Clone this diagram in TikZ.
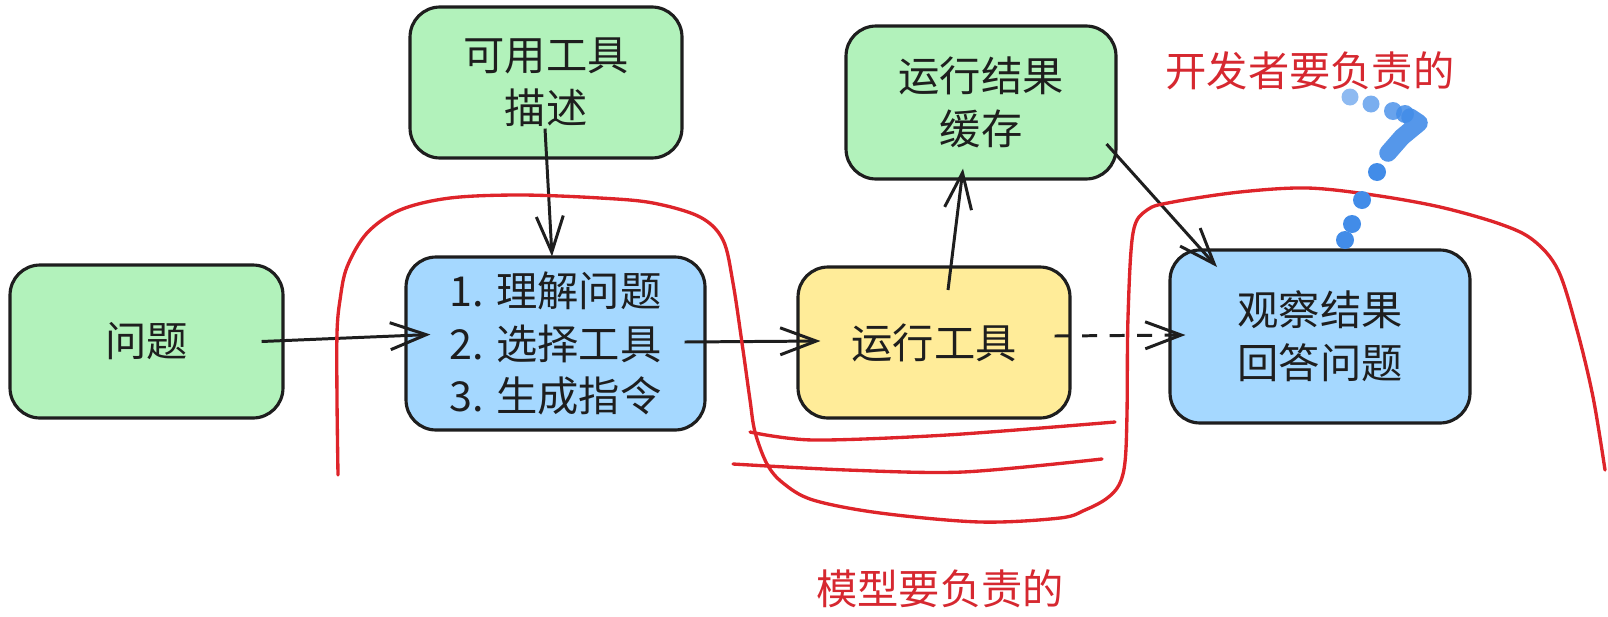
\documentclass[tikz,border=0pt]{standalone}
\usepackage{fontspec}
\setmainfont{Noto Sans CJK SC}
\usetikzlibrary{arrows.meta,calc}
\definecolor{ink}{HTML}{1E1E1E}
\definecolor{gfill}{HTML}{B2F2BB}
\definecolor{bfill}{HTML}{A5D8FF}
\definecolor{yfill}{HTML}{FFEC99}
\definecolor{redpen}{RGB}{222,36,42}
\definecolor{redtxt}{RGB}{214,40,48}
\definecolor{bluepen}{RGB}{66,140,232}
\tikzset{
  box/.style={draw=ink, line width=1.8pt, rounded corners=0.6cm, align=center,
    text=ink, inner sep=0pt, font=\fontsize{23.5}{30}\selectfont},
  arr/.style={draw=ink, line width=1.7pt,
    -{Straight Barb[length=0.72cm, width=0.54cm, line width=1.7pt]}},
  redline/.style={draw=redpen, line width=1.9pt, line cap=round, line join=round},
  redlabel/.style={text=redtxt, font=\fontsize{23.5}{30}\selectfont, inner sep=0pt},
  qdot/.style={fill=bluepen, draw=none}
}
\begin{document}
\begin{tikzpicture}[x=0.02cm, y=-0.02cm]
\useasboundingbox (0,0) rectangle (1608,616);

% boxes
\node[box, fill=gfill, minimum width=5.46cm, minimum height=3.06cm] (q) at (146.5,341.5) {问题};
\node[box, fill=gfill, minimum width=5.44cm, minimum height=3.02cm] (tools) at (546,82.5) {可用工具\\描述};
\node[box, fill=bfill, minimum width=5.98cm, minimum height=3.46cm] (llm) at (555.5,343.5) {1. 理解问题\\2. 选择工具\\3. 生成指令};
\node[box, fill=yfill, minimum width=5.44cm, minimum height=3.02cm] (run) at (934,342.5) {运行工具};
\node[box, fill=gfill, minimum width=5.40cm, minimum height=3.06cm] (cache) at (981,102.5) {运行结果\\缓存};
\node[box, fill=bfill, minimum width=6.00cm, minimum height=3.46cm] (obs) at (1320,336.5) {观察结果\\回答问题};

% connectors
\draw[arr] ($(q.east)+(-23,0)$) -- ($(llm.west)+(26,-9)$);
\draw[arr] ($(tools.south)+(-1,-31)$) -- ($(llm.north)+(-3.5,1)$);
\draw[arr] ($(llm.east)+(-22,-1.5)$) -- ($(run.west)+(24,-1.5)$);
\draw[arr] ($(run.center)+(14,-52.5)$) -- ($(cache.south)+(-18,-12)$);
\draw[arr] ($(cache.east)+(-11,41.5)$) -- ($(obs.center)+(-103,-69.5)$);
\draw[arr, dash pattern=on 0.3cm off 0.25cm] ($(run.east)+(-17,-6.5)$) -- ($(obs.west)+(17,-1.5)$);

% red freehand boundary
\draw[redline] plot[smooth, tension=0.55] coordinates {
 (338,475) (337,400) (337,333) (340,300) (347,267) (367,233) (400,210) (450,198)
 (520,195) (600,198) (653,203) (700,217) (723,240) (733,283) (743,350) (750,400)
 (755,432) (767,464) (783,483) (813,500) (880,513) (980,522) (1060,518) (1085,510)
 (1106,499) (1119,485) (1125,462) (1127,413) (1128,317) (1133,233) (1147,210)
 (1173,202) (1240,192) (1307,188) (1373,195) (1440,207) (1500,224) (1533,240)
 (1558,270) (1577,330) (1593,397) (1605,470)};
\draw[redline] plot[smooth, tension=0.5] coordinates {(750,432) (813,440) (947,435) (1115,422)};
\draw[redline] plot[smooth, tension=0.5] coordinates {(733,464) (847,470) (963,472) (1102,459)};

% red labels
\node[redlabel] (devlabel) at (1310,71) {开发者要负责的};
\node[redlabel] (modellabel) at (940,589) {模型要负责的};

% blue question mark
\fill[qdot, opacity=0.6] (1350,97) circle (8.5);
\fill[qdot, opacity=0.7] (1371,104) circle (8.5);
\fill[qdot, opacity=0.8] (1393,111) circle (9);
\fill[qdot, opacity=0.85] (1405,114) circle (9);
\draw[bluepen, opacity=0.9, line width=10pt, line cap=round, line join=round]
  (1410,117) -- (1419,123) -- (1402,137) -- (1388,153);
\fill[qdot] (1377,172) circle (9);
\fill[qdot] (1362,200) circle (9);
\fill[qdot] (1352,224) circle (9);
\fill[qdot] (1345,240) circle (9);
\end{tikzpicture}
\end{document}
